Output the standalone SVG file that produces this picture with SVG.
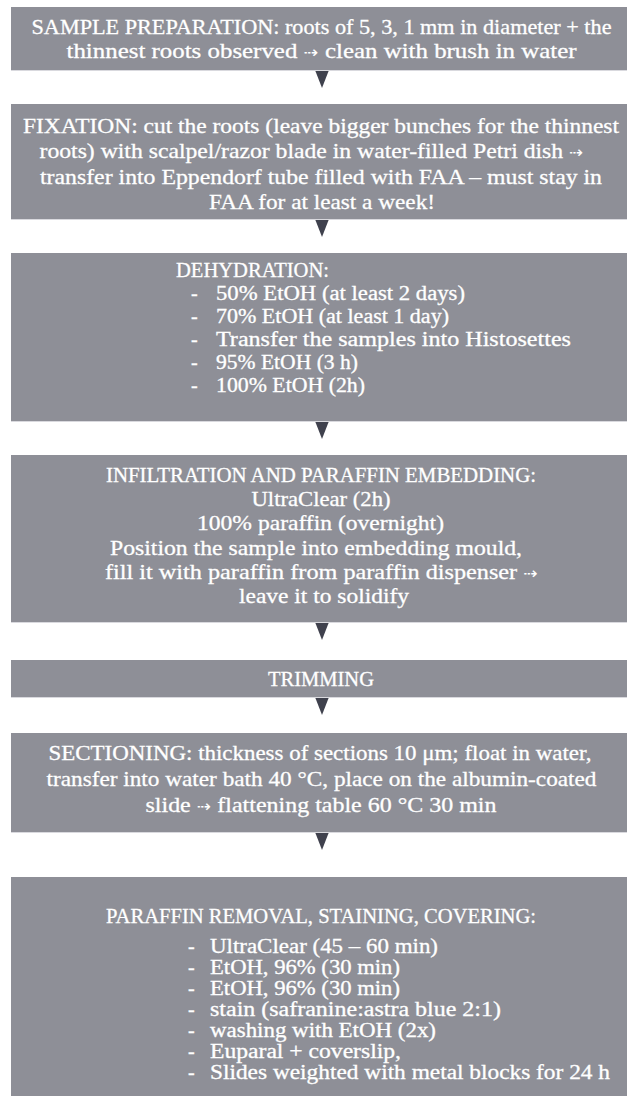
<svg xmlns="http://www.w3.org/2000/svg" width="627" height="1096" viewBox="0 0 627 1096">
<defs>
<style>
.box{fill:#8e8f97;stroke:none}
.edge{stroke:#d9d9de;stroke-width:1}
.arr{fill:#3f414d}
text{font-family:"Liberation Serif","Times New Roman",serif;font-size:22px;fill:#ffffff;stroke:#ffffff;stroke-width:0.3}
.c{text-anchor:middle}
.li{font-size:20px}
.sym{font-family:"DejaVu Sans",sans-serif;font-size:16px;stroke-width:0}
</style>
</defs>
<rect x="0" y="0" width="627" height="1096" fill="#ffffff"/>
<g id="connectors">
<polygon class="arr" points="315,70 329,70 322,88"/>
<polygon class="arr" points="315,219 329,219 322,237"/>
<polygon class="arr" points="315,421 329,421 322,439"/>
<polygon class="arr" points="315,622 329,622 322,640"/>
<polygon class="arr" points="315,697 329,697 322,715"/>
<polygon class="arr" points="315,832 329,832 322,850"/>
</g>
<g id="n1">
<rect class="box" x="11" y="7" width="630" height="63"/>
<line class="edge" x1="11" y1="70.5" x2="627" y2="70.5"/>
<text class="c" x="321.5" y="34" textLength="580" lengthAdjust="spacingAndGlyphs">SAMPLE PREPARATION: roots of 5, 3, 1 mm in diameter + the</text>
<text class="c" x="321.5" y="58" textLength="510" lengthAdjust="spacingAndGlyphs">thinnest roots observed <tspan class="sym">⇢</tspan> clean with brush in water</text>
</g>
<g id="n2">
<rect class="box" x="11" y="104" width="630" height="115"/>
<line class="edge" x1="11" y1="219.5" x2="627" y2="219.5"/>
<text class="c" x="321" y="133" textLength="596" lengthAdjust="spacingAndGlyphs">FIXATION: cut the roots (leave bigger bunches for the thinnest</text>
<text class="c" x="311.5" y="158" textLength="544" lengthAdjust="spacingAndGlyphs">roots) with scalpel/razor blade in water-filled Petri dish  <tspan class="sym">⇢</tspan></text>
<text class="c" x="321" y="184" textLength="562" lengthAdjust="spacingAndGlyphs">transfer into Eppendorf tube filled with FAA – must stay in</text>
<text class="c" x="322" y="209" textLength="226" lengthAdjust="spacingAndGlyphs">FAA for at least a week!</text>
</g>
<g id="n3">
<rect class="box" x="11" y="253" width="630" height="168"/>
<line class="edge" x1="11" y1="421.5" x2="627" y2="421.5"/>
<text x="176" y="277" textLength="153" lengthAdjust="spacingAndGlyphs">DEHYDRATION:</text>
<text class="li" x="191" y="300">-<tspan x="216" textLength="249" lengthAdjust="spacingAndGlyphs">50% EtOH (at least 2 days)</tspan></text>
<text class="li" x="191" y="323">-<tspan x="216" textLength="233" lengthAdjust="spacingAndGlyphs">70% EtOH (at least 1 day)</tspan></text>
<text class="li" x="191" y="346">-<tspan x="216" textLength="355" lengthAdjust="spacingAndGlyphs">Transfer the samples into Histosettes</tspan></text>
<text class="li" x="191" y="369">-<tspan x="216" textLength="142" lengthAdjust="spacingAndGlyphs">95% EtOH (3 h)</tspan></text>
<text class="li" x="191" y="392">-<tspan x="216" textLength="149" lengthAdjust="spacingAndGlyphs">100% EtOH (2h)</tspan></text>
</g>
<g id="n4">
<rect class="box" x="11" y="455" width="630" height="167"/>
<line class="edge" x1="11" y1="622.5" x2="627" y2="622.5"/>
<text class="c" x="321" y="482" textLength="430" lengthAdjust="spacingAndGlyphs">INFILTRATION AND PARAFFIN EMBEDDING:</text>
<text class="c" x="321" y="506" textLength="139" lengthAdjust="spacingAndGlyphs">UltraClear (2h)</text>
<text class="c" x="320.5" y="530" textLength="247" lengthAdjust="spacingAndGlyphs">100% paraffin (overnight)</text>
<text class="c" x="316" y="555" textLength="412" lengthAdjust="spacingAndGlyphs">Position the sample into embedding mould,</text>
<text class="c" x="321.5" y="579" textLength="433" lengthAdjust="spacingAndGlyphs">fill it with paraffin from paraffin dispenser <tspan class="sym">⇢</tspan></text>
<text class="c" x="324" y="603" textLength="170" lengthAdjust="spacingAndGlyphs">leave it to solidify</text>
</g>
<g id="n5">
<rect class="box" x="11" y="660" width="630" height="37"/>
<line class="edge" x1="11" y1="697.5" x2="627" y2="697.5"/>
<text class="c" x="321" y="686" textLength="106" lengthAdjust="spacingAndGlyphs">TRIMMING</text>
</g>
<g id="n6">
<rect class="box" x="11" y="733" width="630" height="99"/>
<line class="edge" x1="11" y1="832.5" x2="627" y2="832.5"/>
<text class="c" x="320" y="760" textLength="543" lengthAdjust="spacingAndGlyphs">SECTIONING: thickness of sections 10 μm; float in water,</text>
<text class="c" x="321.5" y="786" textLength="550" lengthAdjust="spacingAndGlyphs">transfer into water bath 40 °C, place on the albumin-coated</text>
<text class="c" x="321" y="812" textLength="351" lengthAdjust="spacingAndGlyphs">slide <tspan class="sym">⇢</tspan> flattening table 60 °C 30 min</text>
</g>
<g id="n7">
<rect class="box" x="11" y="877" width="630" height="230"/>
<text class="c" x="321" y="923" textLength="430" lengthAdjust="spacingAndGlyphs">PARAFFIN REMOVAL, STAINING, COVERING:</text>
<text class="li" x="188" y="953">-<tspan x="210" textLength="228" lengthAdjust="spacingAndGlyphs">UltraClear (45 – 60 min)</tspan></text>
<text class="li" x="188" y="974">-<tspan x="210" textLength="190" lengthAdjust="spacingAndGlyphs">EtOH, 96% (30 min)</tspan></text>
<text class="li" x="188" y="995">-<tspan x="210" textLength="190" lengthAdjust="spacingAndGlyphs">EtOH, 96% (30 min)</tspan></text>
<text class="li" x="188" y="1016">-<tspan x="210" textLength="291" lengthAdjust="spacingAndGlyphs">stain (safranine:astra blue 2:1)</tspan></text>
<text class="li" x="188" y="1037">-<tspan x="210" textLength="226" lengthAdjust="spacingAndGlyphs">washing with EtOH (2x)</tspan></text>
<text class="li" x="188" y="1058">-<tspan x="210" textLength="191" lengthAdjust="spacingAndGlyphs">Euparal + coverslip,</tspan></text>
<text class="li" x="188" y="1079">-<tspan x="210" textLength="400" lengthAdjust="spacingAndGlyphs">Slides weighted with metal blocks for 24 h</tspan></text>
</g>
</svg>
